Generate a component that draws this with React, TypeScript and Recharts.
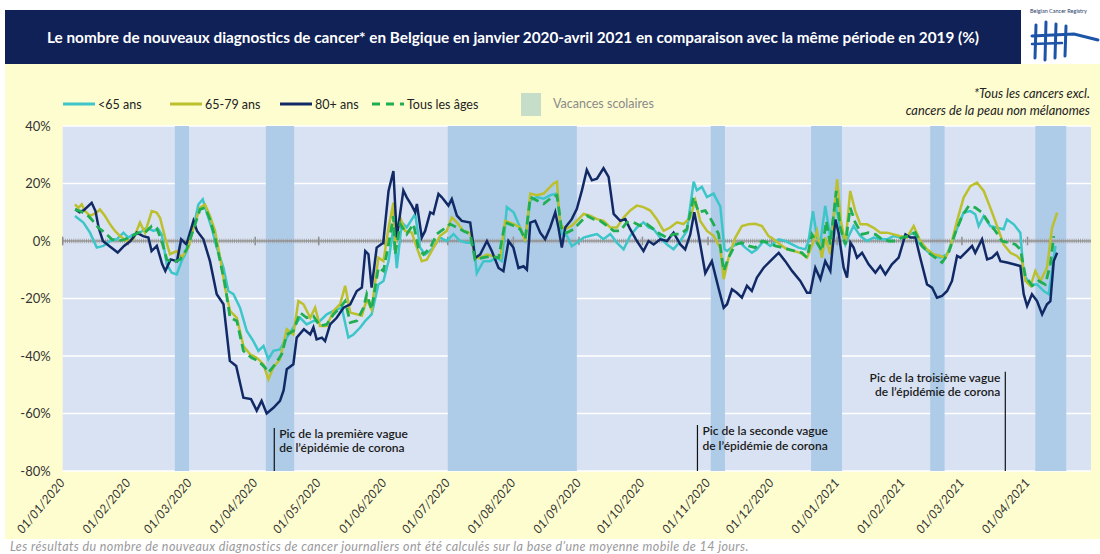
import React from 'react';
import {
  LineChart,
  Line,
  XAxis,
  YAxis,
  CartesianGrid,
  ReferenceArea,
  ReferenceLine,
} from 'recharts';

const FONT = 'Lato, "Noto Sans", sans-serif';

// ---- axis definitions (x = days since 01/01/2020) ----
const monthTickDays = [0, 31, 60, 91, 121, 152, 182, 213, 244, 274, 305, 335, 366, 397, 425, 456];
const monthTickLabels = [
  '01/01/2020', '01/02/2020', '01/03/2020', '01/04/2020', '01/05/2020', '01/06/2020',
  '01/07/2020', '01/08/2020', '01/09/2020', '01/10/2020', '01/11/2020', '01/12/2020',
  '01/01/2021', '01/02/2021', '01/03/2021', '01/04/2021',
];
const yTicks = [40, 20, 0, -20, -40, -60, -80];

// ---- school holidays (day ranges) ----
const holidayStart = [53, 96, 182, 306.3, 353.7, 410, 459.7];
const holidayEnd = [59.7, 109.4, 243, 313, 368.3, 416.8, 474.3];

// ---- epidemic peaks ----
const peakDays = [100, 300, 445.5];
const peakTops = [-65, -64, -45.5];
const peakLabels = [
  ['Pic de la première vague', 'de l’épidémie de corona'],
  ['Pic de la seconde vague', 'de l’épidémie de corona'],
  ['Pic de la troisième vague', 'de l’épidémie de corona'],
];
const peakSides = ['right', 'right', 'left'];

// ---- series: <65 ans ----
const under65Days = [
  5.8, 9.8, 12.9, 16.1, 19.2, 22.4, 25.5, 28.7, 31, 33.4, 36.5, 39.7, 42.9, 45.2, 46.8, 49.2, 51.5, 53.9,
  56.2, 58.6, 61.8, 64.1, 66.2, 68.1, 70.4, 72.8, 76, 78.3, 80.7, 83.8, 87, 90.1, 92.5, 94.9, 97.2, 99.6,
  102.7, 105.9, 109, 112.2, 115.3, 118.5, 121.6, 124.8, 128, 131.9, 135, 137.4, 140.6, 143, 146, 149.2,
  151.6, 154, 156.3, 157.9, 160.3, 162.6, 166.6, 168.9, 171.3, 174.4, 178.4, 181.5, 184.7, 187.8, 191,
  194.2, 195.7, 198.9, 202, 205.2, 207.6, 209.9, 213.1, 216.2, 218.6, 221, 224.1, 227.3, 230.4, 233.6,
  235.9, 238.3, 240.6, 243, 246.2, 249.3, 252.5, 255.6, 258.8, 261.9, 265.1, 268.2, 271.4, 274.5, 276.9,
  279.3, 282.4, 285.6, 288.7, 291.9, 295, 298.2, 299.7, 302.1, 304.5, 307.6, 310.8, 312.8, 314, 317.1,
  320.2, 322.6, 325.7, 328.1, 331.3, 334.4, 338.4, 341.5, 344.7, 347.8, 351, 352.5, 354.6, 356.5, 358.1,
  360.4, 362.8, 365.2, 367.5, 369.9, 371.5, 373.8, 377, 380.1, 383.3, 386.4, 389.6, 392.7, 395.9, 399,
  402.2, 405.3, 408.5, 411.6, 414.8, 418, 421.1, 423.5, 425.8, 429, 431.3, 432.9, 435.3, 438.4, 441.6,
  444.7, 446.3, 449.5, 452.6, 454.2, 457.4, 460.5, 463.7, 466, 467.6, 469.2,
];
const under65Values = [
  8.7, 6.4, 2.9, -2.3, -1.7, 0, 0.6, 2.9, 1.2, 2.3, 2.9, 4.6, 3.5, 4.1, 2.3, -8.1, -11, -11.6,
  -7, -3.5, 4.6, 12.7, 14.5, 9.9, 4.6, -2.3, -9.3, -17.4, -18.5, -23.2, -31.3, -34.8, -38.2, -36.5, -41.1, -38.2,
  -37.7, -33.6, -30.1, -26.7, -29, -27.8, -27.8, -25.5, -24.3, -23.2, -33.6, -32.5, -30.1, -27.8, -25.5, -15.1,
  -13.9, -7, 4.6, -9.4, 6.5, 4.7, 9.4, -2.3, -4.7, -2.9, 1.2, 0, 2.4, 0, -0.6,
  -0.6, -11.2, -7, -7, -5.9, -7, 11.8, 10, 4.7, 0.6, 14.1, 15.3, 14.7, 15.9, 16.5,
  2.4, 1.8, -1.8, -0.6, 1.2, 1.8, 2.4, 0.6, 2.4, -0.6, -2.9, 1.8, 4.7, 6.5, 4.7,
  4.1, 1.2, -1.2, -2.9, 0, 3.5, 20.6, 17.6, 18.8, 15.3, 16.5, 12, -2.9, -3.5, -1.7,
  -0.6, -2.3, -4.1, -2.9, 0, -1.7, 0.6, 0, -1.2, -2.3, -2.9, 0, 10.4, 1.2, -0.6,
  12.2, 1.2, 12.7, 4.6, -1.2, 1.7, 5.2, 1.7, 0, 1.2, 0.6, 0.6, 1.7, 1.2, 1.7,
  2.9, -1.2, -3.5, -5.2, -5.8, -4.6, 1.2, 5.8, 9.9, 10.4, 9.3, 5.2, 8.7, 5.2, 4.6,
  4.1, 7.5, 5.8, 2.9, -11.6, -15.1, -15.1, -17.4, -18.5, -10.4, -1.7,
];

// ---- series: 65-79 ans ----
const age6579Days = [
  5.8, 7.4, 9, 10.5, 12.9, 16.1, 17.6, 20, 22.4, 24.7, 27.1, 30.2, 33.4, 36.5, 38.9, 42.1, 44.4, 46,
  48.4, 50.7, 53.9, 56.2, 59.4, 61.8, 64.9, 67.3, 69.6, 72, 74.4, 76.7, 79.1, 82.3, 85.4, 88.6, 91.7, 94.9,
  97.2, 99.6, 102.7, 105.9, 109, 111.4, 113.8, 117, 119.3, 121.6, 124.8, 128, 131.1, 133.5, 135.9, 139,
  141.4, 143.7, 146, 149.2, 151.6, 154, 156.3, 157.1, 159.5, 161.8, 165, 167.4, 169.7, 172.1, 175.2, 178.4,
  181.5, 183.9, 186.3, 189.4, 192.6, 194.9, 197.3, 200.5, 203.6, 206.8, 209.1, 213.1, 216.2, 218.6, 221,
  224.1, 227.3, 229.6, 232, 233.6, 235.1, 237.5, 240.6, 243.8, 246.2, 249.3, 252.5, 255.6, 258.8, 261.9,
  265.1, 268.2, 271.4, 274.5, 277.7, 280.8, 284, 287.1, 290.3, 293.4, 296.6, 299, 301.3, 304.5, 307.6,
  310.8, 312.4, 314.7, 317.9, 321, 324.2, 327.3, 330.5, 333.6, 336, 339.1, 342.3, 345.5, 348.6, 351.8,
  354.1, 356.5, 358.8, 360.4, 362.8, 366, 367.8, 369.9, 372.2, 374.6, 377, 380.1, 383.3, 386.4, 389.6,
  392.7, 395.9, 399, 402.2, 405.3, 408.5, 411.6, 414.8, 417.2, 419.5, 422.7, 425.8, 429, 432.1, 435.3,
  438.4, 441.6, 444.7, 447.9, 451, 453.4, 455, 457.4, 459.7, 462.1, 465.2, 467.6, 470,
];
const age6579Values = [
  12.7, 11.5, 12.7, 10.5, 8.7, 9.9, 11, 8.7, 5.8, 3.5, 1.7, 0, 0.6, 6.4, 2.9, 10.4, 9.9, 8.1,
  1.2, -4.6, -3.5, -5.8, -2.3, 4.6, 11.6, 12.7, 8.7, 3.5, -5.8, -16.2, -24.3, -26.7, -36.5, -39.4, -40.6, -42.9,
  -48.1, -44, -41.1, -30.7, -32.5, -20.9, -22, -26.7, -23.2, -29.6, -29.6, -24.3, -22, -15.6, -24.9, -25.5,
  -26, -20.3, -23.8, -5.8, -7, 4.6, 13.3, -1.2, 8.2, 3.5, 2.9, -2.4, -7, -6.5, -2.4, 1.8,
  3.5, 8.2, 6.5, 3.5, 2.9, -5.9, -5.9, -4.7, -5.3, -5.9, 7, 5.9, 4.7, 0, 16.5,
  15.9, 16.5, 18.2, 20, 20.6, 5.9, 4.1, 5.3, 7.6, 9.4, 8.8, 7.6, 7, 4.7, 4.7,
  8.2, 10.6, 12.3, 11.8, 10.6, 7.6, 3.5, 4.7, 6.5, 5.9, 8.2, 14.1, 7, 3.5, 1.8,
  -2.4, -13.3, -5.8, 1.2, 5.2, 5.8, 6, 5.2, 1.7, 0.6, -1.2, -2.9, -3.5, -4.1, -5.8,
  -1.7, 3.5, -5.8, 1.2, -4.6, 21.4, 7, -1.2, 17.4, 10.4, 5.8, 5.8, 4.6, 2.9, 2.9,
  2.3, 1.7, 1.2, 5.2, 0, -2.9, -4.6, -5.2, -5.8, -2.3, 7, 15.1, 19.1, 20.3, 17.4,
  11.6, 5.2, -1.2, -4.1, -5.2, -7, -13.9, -15.6, -10.4, -13.9, -9.3, 4.6, 9.9,
];

// ---- series: 80+ ans ----
const age80Days = [
  6, 8, 10, 13.7, 15.5, 17, 19, 22, 26, 29, 32, 35, 38, 40.5, 42, 44.5, 47, 48.5, 51, 54, 56, 58.5,
  61.8, 63.5, 66.5, 69.6, 72.8, 76, 79, 82, 85.4, 89, 91.7, 94, 96.4, 99.6, 102.7, 104.4, 105.9, 109,
  110.6, 114, 117, 118.5, 120, 122.5, 124, 126.4, 129.5, 132.7, 135.9, 139, 141.4, 143, 144.5, 146, 148.4,
  151.5, 154, 156.3, 157.9, 161, 162.6, 165, 166.6, 167.4, 169.7, 171.3, 173.7, 175.2, 177.6, 179.2,
  182.3, 183.9, 186.3, 188.6, 192.6, 194.9, 197.3, 200.5, 202.8, 206, 208.3, 210.7, 213, 215.4, 217.8,
  219.4, 221, 223.3, 225.7, 228, 230.4, 232.8, 234.3, 235.9, 237.5, 240.6, 243, 245.4, 247.7, 250.1,
  252.5, 255.6, 258, 260.4, 263.5, 265.9, 268.2, 271.4, 274.5, 276.9, 279.3, 282.4, 285.6, 288.7, 291.9,
  294.2, 296.6, 298.5, 300.5, 303.7, 306.8, 310, 312.4, 314, 316.3, 318.6, 321, 323.4, 325.7, 328.1,
  331.3, 334.4, 338.4, 341.5, 344.7, 348.6, 351.8, 353.3, 355.7, 358.1, 360.4, 362.8, 365.2, 366.7,
  369.1, 370.7, 372.3, 373.8, 375.4, 377.8, 380.9, 384.1, 386.4, 388.8, 391.9, 395.1, 398.3, 400.6, 403,
  405.3, 408.5, 410.9, 413.2, 415.6, 418, 420.3, 422.7, 424.3, 427.4, 429.8, 431.3, 434.5, 436.9, 439.2,
  441.6, 443.2, 446.3, 449.5, 452.6, 454.2, 455.8, 458.1, 460.5, 462.9, 465.2, 466.8, 468.4, 470,
];
const age80Values = [
  11, 10, 10.7, 13.3, 10.4, 4.6, 0, -1.7, -4, -1.7, 0, 2.9, 1.7, 1.2, -3.5, -1.7, -8, -10.4, -6.4, -7, 0.6, -1.2,
  7, 3.5, 0.6, -7, -18.5, -22, -41.7, -43.5, -54.5, -55, -59, -55.6, -60, -58, -55.6, -52, -44.6, -42.9,
  -33.6, -30.7, -32.5, -30, -34.2, -33.6, -34.8, -29, -26.7, -23.2, -22, -17.4, -16.2, -3.5, -4.6, -16.2, -2.3,
  -0.6, 17.4, 24.3, 1.2, 17.6, 15.2, 12.3, 10, 12.9, 1.2, 3.5, 10, 9.4, 16.4, 15.2,
  12.3, 14.6, 8.8, 7, 6.4, -5.9, -4.7, 0, -3.5, -9.4, -10.5, 0, -2.3, -9.4, -8.8,
  -10, 6.4, 7, 2.9, 0.6, 4.7, 10, 4.7, -2.3, 4.7, 7.6, 11.2, 17.6, 24.7, 21.1,
  21.7, 25.3, 22.3, 9.4, 7, 7.6, 4.1, 0, -3.5, 0, -1.2, 0.6, 0, 2.9, -1.2,
  -2.9, 2.3, 10, 2.3, -11.2, -7, -16.5, -23.2, -22, -16.8, -18, -19.7, -15.6, -17.4, -12.7,
  -9.3, -7, -4.1, -7, -10.4, -13.9, -18, -18, -9.3, -13.3, -7, -10.4, 7.5, 2.9,
  -9.3, -12.7, -0.6, -2.3, -5.8, -4.1, -8.1, -11, -8.7, -11.6, -8.1, -5.8, 2.3, 1.2, 1.2,
  -5.8, -15.1, -16.2, -19.7, -19.1, -17.4, -13.9, -5.2, -5.8, -3.5, -1.7, -4.1, 0.6, -6.4, -5.8,
  -4.1, -7, -7.5, -8.1, -8.7, -18.5, -22.6, -18.5, -20.9, -25.5, -22, -20.9, -7, -4.1,
];

// ---- series: Tous les âges ----
const allAgesDays = [
  5.8, 8.2, 11.3, 13.7, 16.9, 20, 23.2, 26.3, 29.5, 32.6, 35.7, 38.9, 42.1, 44.4, 46.8, 49.2, 52.3, 55.5,
  58.6, 61.8, 64.9, 67.3, 69.6, 72, 74.4, 76.7, 79.1, 82.3, 85.4, 89.3, 92.5, 95.6, 97.2, 100.4, 103.5,
  105.9, 109, 112.2, 115.3, 118.5, 121.6, 124.8, 128, 131.1, 133.5, 135.9, 139, 142.2, 143.7, 146, 149.2,
  151.6, 154, 156.3, 157.1, 159.5, 162.6, 165.8, 168.1, 170.5, 173.7, 176.8, 180, 183.1, 186.3, 189.4,
  192.6, 194.9, 198.1, 202, 206, 209.1, 213.1, 216.2, 218.6, 221, 224.1, 227.3, 230.4, 233.6, 235.9,
  238.3, 241.4, 244.6, 247.7, 250.9, 254, 257.2, 260.4, 263.5, 266.6, 269.8, 273, 276.1, 279.3, 282.4,
  285.6, 288.7, 291.9, 295, 298.2, 300.5, 303.7, 306.8, 310, 312.4, 314.7, 317.9, 321, 324.2, 327.3,
  330.5, 333.6, 336.8, 340, 343.1, 346.2, 349.4, 351.8, 354.1, 356.5, 358.8, 360.9, 362.8, 365.6, 367.5,
  369.9, 372.2, 374.6, 377.8, 380.9, 384.1, 387.2, 390.4, 393.5, 396.7, 399.8, 403, 406.1, 409.3, 412.4,
  415.6, 418.7, 421.9, 425.1, 428.2, 431.3, 434.5, 437.6, 440.8, 443.9, 447.1, 450.3, 452.6, 455, 458.2,
  461.3, 464.4, 466.8, 468.4,
];
const allAgesValues = [
  11, 10.4, 9.3, 7.5, 4.6, 2.9, 0.6, 0, 0.6, 1.7, 2.9, 2.9, 5.2, 4.6, 0, -6.4, -7.5, -6.4,
  -2.9, 4.1, 11, 11.6, 7.5, 1.2, -7, -15.1, -26.7, -27.8, -38.2, -40.6, -41.7, -44, -45.8, -42.9, -39.4,
  -32.5, -31.3, -24.9, -26.7, -26.1, -29.6, -29, -25.5, -23.2, -20.9, -28.4, -27.8, -23.2, -18.5, -23.8, -9.3,
  -10.4, -1.2, 8.7, -4.7, 5.9, 2.4, 5.9, -2.4, -4.7, -2.4, 2.4, 4.1, 5.9, 4.7, 3.5,
  2.4, -6.5, -5.9, -5.3, -5.9, 6.5, 5.3, 4.1, 0.6, 15.3, 14.1, 12.9, 14.7, 15.9, 3.5,
  2.9, 4.1, 6.5, 8.8, 7.6, 7, 5.3, 3.5, 3.5, 6.5, 6.5, 5.3, 5.9, 4.1, 2.4,
  1.2, 2.4, 2.4, 4.1, 15.3, 10, 10.6, 7, 2.4, -10.4, -5.8, -1.2, -0.6, -1.7, -2.3,
  0, -0.6, -1.7, -2.3, -2.9, -3.5, -4.1, -5.8, 2.3, -0.6, -3.5, 7, -1.2, 17.4, 4.6,
  -1.2, 11.6, 6.4, 2.3, 2.9, 2.3, 0.6, 0, 0, 1.2, 1.7, 2.9, -1.7, -4.1, -5.8,
  -7.5, -4.1, 2.9, 8.7, 12.2, 11.6, 9.9, 6.4, 3.5, 0, -0.6, -1.2, -2.9, -12.2, -15.6,
  -13.9, -15.1, -8.1, 1.7,
];

const toPoints = (days: number[], values: number[]) => days.map((d, i) => ({ d, v: values[i] }));

const COLORS = {
  under65: '#3cc6c9',
  age6579: '#bcc02c',
  age80: '#112a66',
  all: '#1fae52',
};

const XTick = (props: any) => {
  const { x, y, payload } = props;
  const idx = monthTickDays.indexOf(payload.value);
  const label = idx >= 0 ? monthTickLabels[idx] : '';
  const ax = x + 3;
  const ay = y + 4;
  return (
    <text
      x={ax}
      y={ay}
      transform={`rotate(-50 ${ax} ${ay})`}
      textAnchor="end"
      fontFamily={FONT}
      fontStyle="italic"
      fontSize={12.3}
      fill="#333"
    >
      {label}
    </text>
  );
};

const PeakLabel = (props: any) => {
  const { viewBox, lines, side } = props;
  if (!viewBox) return null;
  const x = viewBox.x;
  const y = viewBox.y;
  const tx = side === 'left' ? x - 5 : x + 5;
  return (
    <text
      x={tx}
      y={y}
      textAnchor={side === 'left' ? 'end' : 'start'}
      fontFamily={FONT}
      fontSize={12}
      fontWeight={600}
      fill="#1a1a1a"
    >
      <tspan x={tx} dy={10}>{lines[0]}</tspan>
      <tspan x={tx} dy={14.5}>{lines[1]}</tspan>
    </text>
  );
};

const LegendLine = ({ color, dashed }: { color: string; dashed?: boolean }) => (
  <svg width={32} height={6} style={{ display: 'block' }}>
    <line
      x1={0}
      y1={3}
      x2={32}
      y2={3}
      stroke={color}
      strokeWidth={3}
      strokeDasharray={dashed ? '8 6' : undefined}
    />
  </svg>
);

const legendItems = [
  { label: '<65 ans', color: COLORS.under65, left: 63 },
  { label: '65-79 ans', color: COLORS.age6579, left: 170 },
  { label: '80+ ans', color: COLORS.age80, left: 280 },
  { label: 'Tous les âges', color: COLORS.all, left: 372, dashed: true },
];

const Logo = () => (
  <div style={{ position: 'absolute', left: 1022, top: 0, width: 78, height: 64, background: '#ffffff' }}>
    <svg width={78} height={64}>
      <text x={8} y={13} fontFamily={FONT} fontSize={5.5} fill="#2a3a66">Belgian Cancer Registry</text>
      <g stroke="#1c55a8" strokeLinecap="round" fill="none">
        <path d="M14 25 L13 58" strokeWidth={3} />
        <path d="M24 22 L23 60" strokeWidth={3} />
        <path d="M34 24 L33 58" strokeWidth={3} />
        <path d="M44 26 L43 56" strokeWidth={3} />
        <path d="M10 36 L52 34 L76 40" strokeWidth={3} />
        <path d="M10 44 L40 43" strokeWidth={2.5} />
      </g>
    </svg>
  </div>
);

export default function App() {
  const seriesU65 = toPoints(under65Days, under65Values);
  const series6579 = toPoints(age6579Days, age6579Values);
  const series80 = toPoints(age80Days, age80Values);
  const seriesAll = toPoints(allAgesDays, allAgesValues);

  return (
    <div
      style={{
        position: 'absolute',
        left: 0,
        top: 0,
        width: 1100,
        height: 554,
        background: '#ffffff',
        fontFamily: FONT,
        overflow: 'hidden',
      }}
    >
      {/* yellow panel */}
      <div style={{ position: 'absolute', left: 5, top: 64, width: 1095, height: 475, background: '#fefdd0' }} />
      {/* title band */}
      <div
        style={{
          position: 'absolute',
          left: 5,
          top: 10,
          width: 1016,
          height: 54,
          background: '#0f2156',
          color: '#ffffff',
          fontWeight: 700,
          fontSize: 15.3,
          lineHeight: '54px',
          textAlign: 'center',
          whiteSpace: 'nowrap',
        }}
      >
        Le nombre de nouveaux diagnostics de cancer* en Belgique en janvier 2020-avril 2021 en comparaison avec la même période en 2019 (%)
      </div>
      <Logo />

      {/* chart */}
      <div style={{ position: 'absolute', left: 0, top: 0 }}>
        <LineChart width={1100} height={554} margin={{ top: 126, right: 9, bottom: 13, left: 12.7 }}>
          <CartesianGrid
            vertical={false}
            horizontal={true}
            fill="#d9e2f3"
            stroke="#ffffff"
            strokeWidth={1.5}
          />
          <XAxis
            type="number"
            dataKey="d"
            domain={[0, 486]}
            ticks={monthTickDays}
            interval={0}
            tick={<XTick />}
            axisLine={false}
            tickLine={false}
            height={70}
            allowDataOverflow
          />
          <YAxis
            type="number"
            domain={[-80, 40]}
            ticks={yTicks}
            interval={0}
            tickFormatter={(v: number) => `${v}%`}
            axisLine={false}
            tickLine={false}
            width={50}
            tickMargin={6}
            tick={{ fontFamily: FONT, fontSize: 13, fill: '#333' }}
            allowDataOverflow
          />
          {holidayStart.map((s, i) => (
            <ReferenceArea
              key={`h${i}`}
              x1={s}
              x2={holidayEnd[i]}
              y1={-80}
              y2={40}
              fill="#aecbe8"
              fillOpacity={1}
              stroke="none"
              ifOverflow="hidden"
            />
          ))}
          <ReferenceLine y={0} stroke="#a6a6a6" strokeWidth={4.5} strokeDasharray="1 1.115" />
          <ReferenceLine y={0} stroke="#8f8f8f" strokeWidth={1.5} />
          {monthTickDays.map((d, i) => (
            <ReferenceLine
              key={`m${i}`}
              segment={[{ x: d, y: -1.5 }, { x: d, y: 1.5 }]}
              stroke="#8f8f8f"
              strokeWidth={1.5}
            />
          ))}
          {peakDays.map((d, i) => (
            <ReferenceLine
              key={`p${i}`}
              segment={[{ x: d, y: peakTops[i] }, { x: d, y: -80 }]}
              stroke="#111"
              strokeWidth={1.2}
              label={<PeakLabel lines={peakLabels[i]} side={peakSides[i]} />}
            />
          ))}
          <Line
            data={seriesU65}
            dataKey="v"
            type="linear"
            stroke={COLORS.under65}
            strokeWidth={2.5}
            dot={false}
            activeDot={false}
            isAnimationActive={false}
          />
          <Line
            data={series6579}
            dataKey="v"
            type="linear"
            stroke={COLORS.age6579}
            strokeWidth={2.5}
            dot={false}
            activeDot={false}
            isAnimationActive={false}
          />
          <Line
            data={series80}
            dataKey="v"
            type="linear"
            stroke={COLORS.age80}
            strokeWidth={2.5}
            dot={false}
            activeDot={false}
            isAnimationActive={false}
          />
          <Line
            data={seriesAll}
            dataKey="v"
            type="linear"
            stroke={COLORS.all}
            strokeWidth={2.8}
            strokeDasharray="9 5"
            dot={false}
            activeDot={false}
            isAnimationActive={false}
          />
        </LineChart>
      </div>

      {/* legend */}
      {legendItems.map((it) => (
        <div
          key={it.label}
          style={{
            position: 'absolute',
            left: it.left,
            top: 96,
            height: 16,
            display: 'flex',
            alignItems: 'center',
            gap: 3,
            fontSize: 12.5,
            color: '#222',
            whiteSpace: 'nowrap',
          }}
        >
          <LegendLine color={it.color} dashed={it.dashed} />
          <span>{it.label}</span>
        </div>
      ))}
      <div style={{ position: 'absolute', left: 521, top: 93, width: 20, height: 23, background: '#c6ddc9' }} />
      <div
        style={{
          position: 'absolute',
          left: 553,
          top: 96,
          height: 16,
          lineHeight: '16px',
          fontSize: 12.5,
          color: '#8a8a8a',
          whiteSpace: 'nowrap',
        }}
      >
        Vacances scolaires
      </div>

      {/* note */}
      <div
        style={{
          position: 'absolute',
          right: 10,
          top: 85,
          textAlign: 'right',
          fontStyle: 'italic',
          fontSize: 12.8,
          lineHeight: '17px',
          color: '#222',
          whiteSpace: 'nowrap',
        }}
      >
        *Tous les cancers excl.
        <br />
        cancers de la peau non mélanomes
      </div>

      {/* footnote */}
      <div
        style={{
          position: 'absolute',
          left: 10,
          top: 539,
          fontStyle: 'italic',
          fontSize: 12.5,
          letterSpacing: 0.4,
          color: '#9a9a9a',
          whiteSpace: 'nowrap',
        }}
      >
        Les résultats du nombre de nouveaux diagnostics de cancer journaliers ont été calculés sur la base d’une moyenne mobile de 14 jours.
      </div>
    </div>
  );
}
